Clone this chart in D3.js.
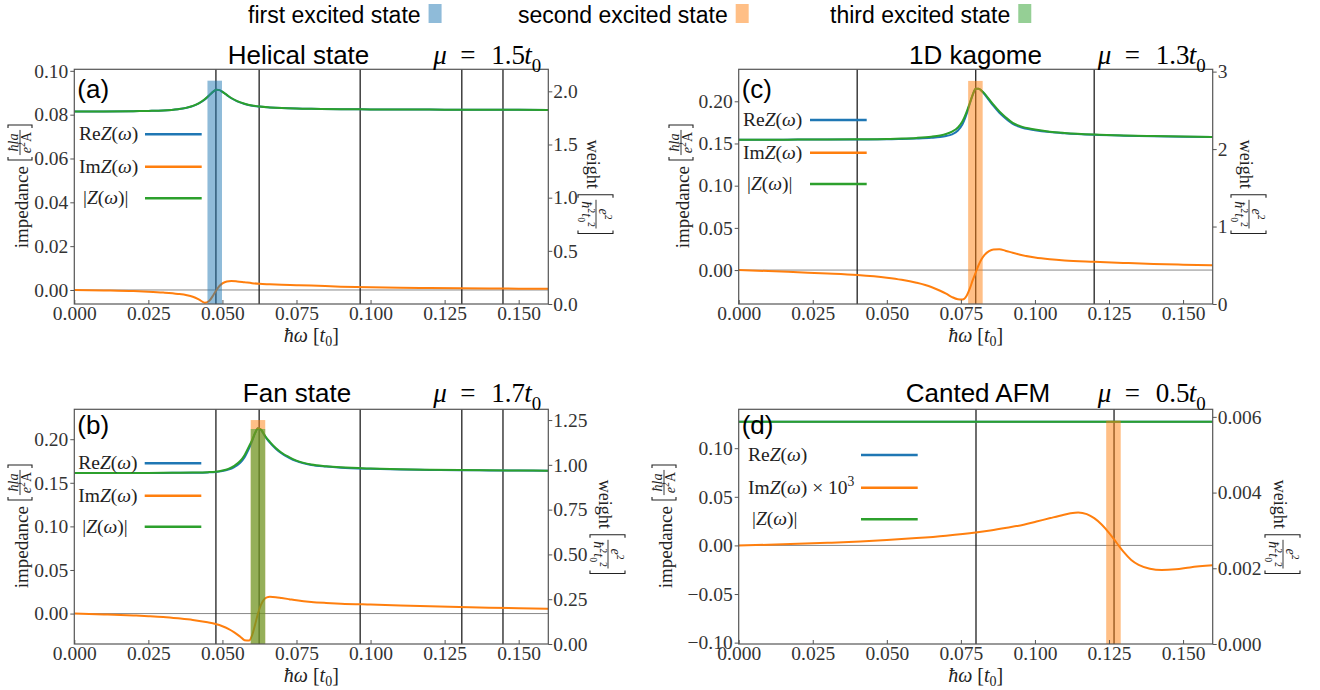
<!DOCTYPE html>
<html><head><meta charset="utf-8">
<script src="https://cdn.jsdelivr.net/npm/d3@7/dist/d3.min.js"></script>
<style>html,body{margin:0;padding:0;background:#fff}svg{display:block}</style>
</head><body>
<svg id="chart" width="1320" height="690"></svg>
<script>
// ================= DATA =================
const xDomain = [0, 0.16];
const xTickValues = [0, 0.025, 0.05, 0.075, 0.1, 0.125, 0.15];
const stateNames = ["first excited state", "second excited state", "third excited state"];
const panelTitles = ["Helical state", "Fan state", "1D kagome", "Canted AFM"];
const panelMu = ["1.5", "1.7", "1.3", "0.5"];
const panelTags = ["(a)", "(b)", "(c)", "(d)"];

// (a) Helical state
const aOmega = [0, 0.01, 0.02, 0.025, 0.03, 0.035, 0.038, 0.04, 0.042, 0.044, 0.0455, 0.047, 0.048, 0.049, 0.050, 0.0515, 0.053, 0.055, 0.0575, 0.06, 0.0625, 0.066, 0.07, 0.075, 0.08, 0.09, 0.1, 0.11, 0.12, 0.13, 0.14, 0.15, 0.16];
const aAbs = [0.0815, 0.0815, 0.0816, 0.0817, 0.0819, 0.0825, 0.0832, 0.0840, 0.0852, 0.0870, 0.0888, 0.0906, 0.0914, 0.0912, 0.0904, 0.0890, 0.0876, 0.0862, 0.0850, 0.0842, 0.0837, 0.0833, 0.0830, 0.0828, 0.0827, 0.0825, 0.0824, 0.0823, 0.0823, 0.0822, 0.0822, 0.0822, 0.0821];
const aRe = [0.0815, 0.0815, 0.0816, 0.0817, 0.0819, 0.0825, 0.0832, 0.0839, 0.0851, 0.0868, 0.0887, 0.0906, 0.0914, 0.0912, 0.0904, 0.0889, 0.0875, 0.0861, 0.0849, 0.0841, 0.0837, 0.0833, 0.0830, 0.0828, 0.0827, 0.0825, 0.0824, 0.0823, 0.0823, 0.0822, 0.0822, 0.0822, 0.0821];
const aIm = [0, -0.0002, -0.0005, -0.0008, -0.0012, -0.0018, -0.0024, -0.0031, -0.0043, -0.0058, -0.0050, -0.0022, 0.0000, 0.0018, 0.0030, 0.0039, 0.0041, 0.0039, 0.0035, 0.0031, 0.0028, 0.0026, 0.0024, 0.0022, 0.0020, 0.0015, 0.0012, 0.0010, 0.0009, 0.0008, 0.0007, 0.0006, 0.0006];
const aLines = [0.0478, 0.0624, 0.0965, 0.1308, 0.1447];
const aBarOmega = [0.0474];
const aBarWeight = [2.10];
const aBarState = [0];
const aYDomain = [-0.0064, 0.1007];
const aWDomain = [0, 2.207];
const aYTicks = [0, 0.02, 0.04, 0.06, 0.08, 0.10];
const aWTicks = [0, 0.5, 1.0, 1.5, 2.0];

// (b) Fan state
const bOmega = [0, 0.01, 0.02, 0.025, 0.03, 0.035, 0.04, 0.045, 0.0477, 0.05, 0.052, 0.054, 0.056, 0.0575, 0.059, 0.06, 0.061, 0.062, 0.063, 0.064, 0.065, 0.066, 0.068, 0.07, 0.0725, 0.075, 0.08, 0.085, 0.09, 0.1, 0.11, 0.12, 0.13, 0.14, 0.15, 0.16];
const bAbs = [0.1612, 0.1612, 0.1613, 0.1613, 0.1614, 0.1616, 0.1618, 0.1622, 0.1627, 0.1640, 0.1660, 0.1695, 0.1750, 0.1820, 0.1920, 0.1990, 0.2070, 0.2125, 0.2110, 0.2060, 0.2010, 0.1970, 0.1900, 0.1845, 0.1795, 0.1755, 0.1710, 0.1690, 0.1677, 0.1663, 0.1655, 0.1650, 0.1646, 0.1643, 0.1641, 0.1639];
const bRe = [0.1612, 0.1612, 0.1613, 0.1613, 0.1613, 0.1615, 0.1616, 0.1619, 0.1623, 0.1634, 0.1651, 0.1681, 0.1730, 0.1794, 0.1895, 0.1974, 0.2066, 0.2125, 0.2108, 0.2054, 0.2002, 0.1961, 0.1891, 0.1836, 0.1787, 0.1748, 0.1705, 0.1686, 0.1673, 0.1660, 0.1652, 0.1648, 0.1644, 0.1642, 0.1640, 0.1638];
const bIm = [0, -0.0010, -0.0022, -0.0030, -0.0040, -0.0055, -0.0073, -0.0100, -0.0120, -0.0145, -0.0175, -0.0215, -0.0265, -0.0305, -0.0310, -0.0250, -0.0130, 0.0000, 0.0100, 0.0160, 0.0185, 0.0192, 0.0188, 0.0178, 0.0165, 0.0152, 0.0133, 0.0122, 0.0114, 0.0103, 0.0093, 0.0084, 0.0076, 0.0068, 0.0061, 0.0055];
const bLines = [0.0478, 0.0624, 0.0965, 0.1308, 0.1447];
const bBarOmega = [0.0620, 0.0620];
const bBarWeight = [1.25, 1.20];
const bBarState = [1, 2];
const bYDomain = [-0.0349, 0.2343];
const bWDomain = [0, 1.31];
const bYTicks = [0, 0.05, 0.10, 0.15, 0.20];
const bWTicks = [0, 0.25, 0.5, 0.75, 1.0, 1.25];

// (c) 1D kagome
const cOmega = [0, 0.01, 0.02, 0.03, 0.04, 0.05, 0.055, 0.06, 0.065, 0.068, 0.07, 0.072, 0.074, 0.0755, 0.077, 0.078, 0.079, 0.080, 0.081, 0.082, 0.083, 0.0845, 0.086, 0.088, 0.09, 0.0925, 0.095, 0.1, 0.105, 0.11, 0.12, 0.13, 0.14, 0.15, 0.16];
const cAbs = [0.1545, 0.1545, 0.1546, 0.1547, 0.1549, 0.1553, 0.1558, 0.1566, 0.1580, 0.1595, 0.1612, 0.1640, 0.1690, 0.1760, 0.1880, 0.1980, 0.2080, 0.2148, 0.2150, 0.2125, 0.2090, 0.2025, 0.1960, 0.1880, 0.1815, 0.1745, 0.1705, 0.1665, 0.1640, 0.1625, 0.1606, 0.1595, 0.1588, 0.1582, 0.1578];
const cRe = [0.1545, 0.1545, 0.1546, 0.1546, 0.1548, 0.1550, 0.1554, 0.1559, 0.1567, 0.1576, 0.1588, 0.1609, 0.1654, 0.1725, 0.1856, 0.1968, 0.2077, 0.2148, 0.2149, 0.2121, 0.2082, 0.2013, 0.1945, 0.1864, 0.1800, 0.1733, 0.1695, 0.1658, 0.1635, 0.1621, 0.1603, 0.1593, 0.1586, 0.1581, 0.1577];
const cIm = [0, -0.0012, -0.0026, -0.0040, -0.0058, -0.0090, -0.0115, -0.0150, -0.0200, -0.0245, -0.0280, -0.0320, -0.0345, -0.0348, -0.0300, -0.0220, -0.0120, -0.0030, 0.0060, 0.0130, 0.0180, 0.0225, 0.0245, 0.0246, 0.0230, 0.0205, 0.0182, 0.0148, 0.0127, 0.0113, 0.0098, 0.0085, 0.0073, 0.0064, 0.0056];
const cLines = [0.04, 0.08, 0.12];
const cBarOmega = [0.0799];
const cBarWeight = [2.88];
const cBarState = [1];
const cYDomain = [-0.0402, 0.2379];
const cWDomain = [0, 3.03];
const cYTicks = [0, 0.05, 0.10, 0.15, 0.20];
const cWTicks = [0, 1, 2, 3];

// (d) Canted AFM  (Im Z shown x 10^3)
const dOmega = [0, 0.01, 0.02, 0.03, 0.041, 0.05, 0.06, 0.07, 0.08, 0.0849, 0.0905, 0.0962, 0.1005, 0.1052, 0.1095, 0.112, 0.1146, 0.1175, 0.12, 0.1225, 0.125, 0.1275, 0.13, 0.1325, 0.135, 0.1388, 0.1428, 0.1475, 0.1523, 0.16];
const dAbs = [0.1273, 0.1273, 0.1273, 0.1273, 0.1273, 0.1273, 0.1273, 0.1273, 0.1273, 0.1273, 0.1273, 0.1273, 0.1273, 0.1273, 0.1273, 0.1273, 0.1273, 0.1273, 0.1273, 0.1273, 0.1273, 0.1273, 0.1273, 0.1273, 0.1273, 0.1273, 0.1273, 0.1273, 0.1273, 0.1273];
const dRe = [0.1273, 0.1273, 0.1273, 0.1273, 0.1273, 0.1273, 0.1273, 0.1273, 0.1273, 0.1273, 0.1273, 0.1273, 0.1273, 0.1273, 0.1273, 0.1273, 0.1273, 0.1273, 0.1273, 0.1273, 0.1273, 0.1273, 0.1273, 0.1273, 0.1273, 0.1273, 0.1273, 0.1273, 0.1273, 0.1273];
const dIm = [0, 0.0007, 0.0016, 0.0027, 0.0041, 0.0055, 0.0075, 0.0100, 0.0133, 0.0154, 0.0182, 0.0213, 0.0245, 0.0281, 0.0313, 0.0330, 0.0339, 0.0322, 0.0280, 0.0215, 0.0130, 0.0030, -0.0070, -0.0150, -0.0200, -0.0239, -0.0253, -0.0245, -0.0226, -0.0205];
const dLines = [0.0801, 0.1267];
const dBarOmega = [0.1265];
const dBarWeight = [0.0059];
const dBarState = [1];
const dYDomain = [-0.1014, 0.140];
const dWDomain = [0, 0.0062];
const dYTicks = [-0.10, -0.05, 0, 0.05, 0.10];
const dWTicks = [0, 0.002, 0.004, 0.006];

// ================= STYLE / LAYOUT =================
const SERIF = "'Liberation Serif','DejaVu Serif',serif";
const SANS = "'Liberation Sans',Arial,sans-serif";
const stateColors = ["#1f77b4", "#ff7f0e", "#2ca02c"];
const reColor = "#1f77b4", imColor = "#ff7f0e", absColor = "#2ca02c";
const barWidth = 0.0049;
const spineColor = "#555";
const tickTextColor = "#333";
const tickFont = 19.5;

const panels = [
  {omega:aOmega, re:aRe, im:aIm, abs:aAbs, lines:aLines, barO:aBarOmega, barW:aBarWeight, barS:aBarState,
   yDom:aYDomain, wDom:aWDomain, yTicks:aYTicks, wTicks:aWTicks, yFmt:".2f", wFmt:".1f", imX1000:false,
   box:{L:74.3,R:548.3,T:69.3,B:304}, titleX:298.5, titleY:64, tagDY:29,
   leg:{tx:4.7, l0:70.7, l1:127.4, rows:[65,97.4,129]}, yLabX:28, wLabX:587, xLabY:342},
  {omega:bOmega, re:bRe, im:bIm, abs:bAbs, lines:bLines, barO:bBarOmega, barW:bBarWeight, barS:bBarState,
   yDom:bYDomain, wDom:bWDomain, yTicks:bYTicks, wTicks:bWTicks, yFmt:".2f", wFmt:".2f", imX1000:false,
   box:{L:74.3,R:548.3,T:409.3,B:644}, titleX:297, titleY:402, tagDY:25,
   leg:{tx:4, l0:70.4, l1:127, rows:[54,86.4,117.4]}, yLabX:28, wLabX:599, xLabY:681.5},
  {omega:cOmega, re:cRe, im:cIm, abs:cAbs, lines:cLines, barO:cBarOmega, barW:cBarWeight, barS:cBarState,
   yDom:cYDomain, wDom:cWDomain, yTicks:cYTicks, wTicks:cWTicks, yFmt:".2f", wFmt:"d", imX1000:false,
   box:{L:738.7,R:1212.7,T:69.3,B:304}, titleX:975.5, titleY:64, tagDY:29,
   leg:{tx:4.3, l0:71.3, l1:128, rows:[50.7,83.4,114.7]}, yLabX:689, wLabX:1240, xLabY:342},
  {omega:dOmega, re:dRe, im:dIm, abs:dAbs, lines:dLines, barO:dBarOmega, barW:dBarWeight, barS:dBarState,
   yDom:dYDomain, wDom:dWDomain, yTicks:dYTicks, wTicks:dWTicks, yFmt:".2f", wFmt:".3f", imX1000:true,
   box:{L:738.7,R:1212.7,T:409.3,B:644}, titleX:978, titleY:402, tagDY:25,
   leg:{tx:9.3, l0:122.3, l1:179, rows:[45.7,78.4,110]}, yLabX:672, wLabX:1274, xLabY:681.5}
];

const svg = d3.select("#chart");

// math-ish text helper: parts = [[text, flags]] flags: "i" italic, "sub", "sup"
function mtext(g, x, y, parts, size, anchor, fill, subShift) {
  const t = g.append("text").attr("x", x).attr("y", y)
    .attr("font-family", SERIF).attr("font-size", size)
    .attr("text-anchor", anchor || "start").attr("fill", fill || "#111");
  let shift = 0;
  parts.forEach(p => {
    const f = p[1] || "";
    const isSub = f.includes("sub"), isSup = f.includes("sup");
    const target = isSub ? size * (subShift || 0.3) : isSup ? -size * 0.42 : 0;
    const ts = t.append("tspan").text(p[0]).attr("dy", target - shift)
      .attr("font-size", (isSub || isSup) ? size * 0.7 : size);
    if (f.includes("i")) ts.attr("font-style", "italic");
    shift = target;
  });
  return t;
}

// word + [num/den] label drawn in a local (rotatable) frame, centred on x=0
function fracLabel(g, wordParts, numParts, denParts, o) {
  const inner = g.append("g");
  const w = mtext(inner, 0, 0, wordParts, o.wordSize, "start", "#222");
  const w1 = w.node().getBBox().width;
  const x = w1 + 6;
  const n = mtext(inner, 0, o.numY, numParts, o.fracSize, "middle", "#222");
  const d = mtext(inner, 0, o.denY, denParts, o.fracSize, "middle", "#222");
  const fw = Math.max(n.node().getBBox().width, d.node().getBBox().width) + 3;
  const bx0 = x, fx0 = x + 5, cx = fx0 + fw / 2, bx1 = fx0 + fw + 5;
  n.attr("x", cx); d.attr("x", cx);
  inner.append("path").attr("d", `M${bx0+3},${o.top}H${bx0}V${o.bot}H${bx0+3}`).attr("stroke", "#222").attr("stroke-width", 1.1).attr("fill", "none");
  inner.append("path").attr("d", `M${bx1-3},${o.top}H${bx1}V${o.bot}H${bx1-3}`).attr("stroke", "#222").attr("stroke-width", 1.1).attr("fill", "none");
  inner.append("line").attr("x1", fx0).attr("x2", fx0 + fw).attr("y1", o.lineY).attr("y2", o.lineY).attr("stroke", "#222").attr("stroke-width", 0.9);
  inner.attr("transform", `translate(${-bx1 / 2},0)`);
}

// ================= TOP LEGEND =================
const topLeg = {x:[248, 518, 830], baseline:23, rectTop:4, rectW:13, rectH:19, gap:8, size:23};
stateNames.forEach((name, i) => {
  const t = svg.append("text").attr("x", topLeg.x[i]).attr("y", topLeg.baseline)
    .attr("font-family", SANS).attr("font-size", topLeg.size).attr("fill", "#000").text(name);
  const tw = t.node().getComputedTextLength();
  svg.append("rect").attr("x", topLeg.x[i] + tw + topLeg.gap).attr("y", topLeg.rectTop)
    .attr("width", topLeg.rectW).attr("height", topLeg.rectH)
    .attr("fill", stateColors[i]).attr("fill-opacity", 0.5);
});

// ================= PANELS =================
panels.forEach((p, k) => {
  const {L, R, T, B} = p.box;
  const g = svg.append("g");
  const x = d3.scaleLinear().domain(xDomain).range([L, R]);
  const y = d3.scaleLinear().domain(p.yDom).range([B, T]);
  const yw = d3.scaleLinear().domain(p.wDom).range([B, T]);

  const clipId = "clip" + k;
  g.append("clipPath").attr("id", clipId).append("rect").attr("x", L).attr("y", T).attr("width", R - L).attr("height", B - T);
  const plot = g.append("g").attr("clip-path", `url(#${clipId})`);

  // zero line
  plot.append("line").attr("x1", L).attr("x2", R).attr("y1", y(0)).attr("y2", y(0))
    .attr("stroke", "#888").attr("stroke-width", 1);
  // vertical reference lines
  plot.selectAll("line.v").data(p.lines).join("line").attr("class", "v")
    .attr("x1", d => x(d)).attr("x2", d => x(d)).attr("y1", T).attr("y2", B)
    .attr("stroke", "#1a1a1a").attr("stroke-width", 1.4).attr("stroke-opacity", 0.9);

  const line = vals => d3.line().x((d, i) => x(p.omega[i])).y(d => y(d)).curve(d3.curveMonotoneX)(vals);
  plot.append("path").attr("d", line(p.re)).attr("fill", "none").attr("stroke", reColor).attr("stroke-width", 2);
  plot.append("path").attr("d", line(p.im)).attr("fill", "none").attr("stroke", imColor).attr("stroke-width", 2);
  plot.append("path").attr("d", line(p.abs)).attr("fill", "none").attr("stroke", absColor).attr("stroke-width", 2);

  // weight bars
  p.barO.forEach((o, i) => {
    plot.append("rect").attr("x", x(o - barWidth / 2)).attr("width", x(o + barWidth / 2) - x(o - barWidth / 2))
      .attr("y", yw(p.barW[i])).attr("height", yw(0) - yw(p.barW[i]))
      .attr("fill", stateColors[p.barS[i]]).attr("fill-opacity", 0.5);
  });

  // axes
  const styleAxis = sel => {
    sel.select(".domain").remove();
    sel.selectAll(".tick line").attr("stroke", spineColor).attr("stroke-width", 1);
    sel.selectAll("text").attr("font-family", SERIF).attr("font-size", tickFont).attr("fill", tickTextColor);
  };
  g.append("g").attr("transform", `translate(0,${B})`)
    .call(d3.axisBottom(x).tickValues(xTickValues).tickFormat(d3.format(".3f")).tickSize(-4).tickPadding(2))
    .call(styleAxis);
  g.append("g").attr("transform", `translate(${L},0)`)
    .call(d3.axisLeft(y).tickValues(p.yTicks).tickFormat(d3.format(p.yFmt)).tickSize(4).tickPadding(2))
    .call(styleAxis);
  g.append("g").attr("transform", `translate(${R},0)`)
    .call(d3.axisRight(yw).tickValues(p.wTicks).tickFormat(d3.format(p.wFmt)).tickSize(4).tickPadding(1))
    .call(styleAxis);

  // spines
  g.append("rect").attr("x", L).attr("y", T).attr("width", R - L).attr("height", B - T)
    .attr("fill", "none").attr("stroke", spineColor).attr("stroke-width", 1.2);

  // titles
  g.append("text").attr("x", p.titleX).attr("y", p.titleY).attr("text-anchor", "middle")
    .attr("font-family", SANS).attr("font-size", 26).attr("fill", "#000").text(panelTitles[k]);
  const mx = R - 115;
  const my = p.titleY;
  mtext(g, mx, my, [["μ", "i"]], 27, "start", "#000");
  mtext(g, mx + 27, my, [["="]], 27, "start", "#000");
  mtext(g, mx + 58, my, [[panelMu[k]]], 27, "start", "#000");
  mtext(g, mx + 91, my, [["t", "i"], ["0", "sub"]], 27, "start", "#000");

  // panel tag
  g.append("text").attr("x", L + 3).attr("y", T + p.tagDY).attr("font-family", SANS)
    .attr("font-size", 26).attr("fill", "#000").text(panelTags[k]);

  // inner legend
  const legItems = [
    {parts:[["Re"], ["Z", "i"], ["("], ["ω", "i"], [")"]], color:reColor, dx:0},
    {parts: p.imX1000 ? [["Im"], ["Z", "i"], ["("], ["ω", "i"], [") × 10"], ["3", "sup"]] : [["Im"], ["Z", "i"], ["("], ["ω", "i"], [")"]], color:imColor, dx:0},
    {parts:[["|"], ["Z", "i"], ["("], ["ω", "i"], [")|"]], color:absColor, dx:4}
  ];
  legItems.forEach((it, i) => {
    const ry = T + p.leg.rows[i];
    mtext(g, L + p.leg.tx + it.dx, ry + 6, it.parts, 19.5, "start", "#222");
    g.append("line").attr("x1", L + p.leg.l0).attr("x2", L + p.leg.l1).attr("y1", ry).attr("y2", ry)
      .attr("stroke", it.color).attr("stroke-width", 2.6);
  });

  // x label
  mtext(g, (L + R) / 2, p.xLabY, [["ħω", "i"], [" ["], ["t", "i"], ["0", "sub"], ["]"]], 20, "middle", "#222", 0.22);

  // left y label
  const gl = g.append("g").attr("transform", `translate(${p.yLabX},${(T + B) / 2}) rotate(-90)`);
  fracLabel(gl, [["impedance"]], [["ħla", "i"]], [["e", "i"], ["2", "sup"], ["A"]],
    {wordSize:19, fracSize:14, top:-20, bot:4, lineY:-8, numY:-10.5, denY:3});

  // right y label
  const gr = g.append("g").attr("transform", `translate(${p.wLabX},${(T + B) / 2}) rotate(90)`);
  fracLabel(gr, [["weight"]], [["e", "i"], ["2", "sup"]], [["ħ", "i"], ["2", "sup"], ["t", "i"], ["0", "sub"], ["2", "sup"]],
    {wordSize:18, fracSize:14, top:-26, bot:9, lineY:-9, numY:-12, denY:5});
});
</script>
</body></html>
